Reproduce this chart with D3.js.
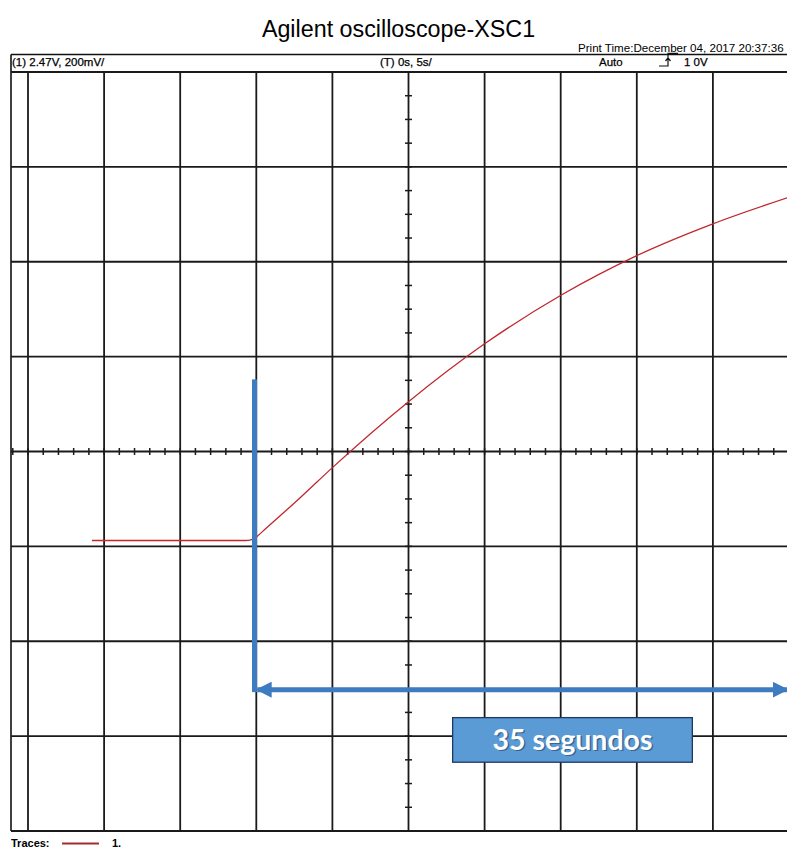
<!DOCTYPE html>
<html lang="en">
<head>
<meta charset="utf-8">
<title>Agilent oscilloscope-XSC1</title>
<script src="https://d3js.org/d3.v7.min.js"></script>
<style>
  body { margin: 0; background: #fff; }
  svg { display: block; font-family: "Liberation Sans", Arial, sans-serif; }
</style>
</head>
<body>
<div id="chart"></div>
<script>
// trace: time in s, voltage in V (relative to the screen centre)
var traceTime = [4.2, 8, 12, 14.3, 14.6, 14.85, 15.05, 15.5, 17.9, 20.0, 25.0, 30.0, 35.1, 40.0, 45.0, 49.9];
var traceVolt = [-0.1876, -0.1876, -0.1876, -0.1876, -0.1866, -0.184, -0.179, -0.166, -0.097, -0.034, 0.105, 0.227, 0.331, 0.413, 0.48, 0.535];

var headerLabels = ["(1) 2.47V, 200mV/", "(T) 0s, 5s/", "Auto", "1 0V"];
var printTime = "Print Time:December 04, 2017 20:37:36";
var title = "Agilent oscilloscope-XSC1";

// annotation: start and end of the marked span (s)
var spanStart = 15.0, spanEnd = 50.0;
var spanLabel = "35 segundos";

var W = 787, H = 848;
var svg = d3.select("#chart").append("svg").attr("width", W).attr("height", H);

var x = d3.scaleLinear().domain([0, 50]).range([28, 789]);
var y = d3.scaleLinear().domain([-0.8, 0.8]).range([831, 72]);

var left = 11, right = 800;

// title and print time
svg.append("text").attr("x", 398.5).attr("y", 37).attr("text-anchor", "middle")
  .style("font-size", "23.3px").text(title);
svg.append("text").attr("x", 578).attr("y", 52).style("font-size", "11.6px").text(printTime);

// header box
svg.append("line").attr("x1", left).attr("x2", right).attr("y1", 54.5).attr("y2", 54.5)
  .attr("stroke", "#111").attr("stroke-width", 1.4);
svg.append("line").attr("x1", left).attr("y1", 54.5).attr("x2", left).attr("y2", y(-0.8))
  .attr("stroke", "#111").attr("stroke-width", 1.6);
var hx = [12, 380, 599, 684];
svg.selectAll(".hdr").data(headerLabels).enter().append("text")
  .attr("x", function (d, i) { return hx[i]; }).attr("y", 66)
  .style("font-size", "11.5px").attr("stroke", "#000").attr("stroke-width", 0.25)
  .text(function (d) { return d; });
// trigger edge symbol
svg.append("path").attr("d", "M659,66 H668 V53.3 H678 M665.5,61 L668,58 L670.5,61")
  .attr("fill", "none").attr("stroke", "#111").attr("stroke-width", 1.2);

// grid
var g = svg.append("g");
var vx = d3.range(0, 51, 5);
var hy = d3.range(-0.8, 0.81, 0.2);
g.selectAll(".vg").data(vx).enter().append("line")
  .attr("x1", function (d) { return x(d); }).attr("x2", function (d) { return x(d); })
  .attr("y1", y(0.8)).attr("y2", y(-0.8))
  .attr("stroke", "#1a1a1a").attr("stroke-width", 1.8);
g.selectAll(".hg").data(hy).enter().append("line")
  .attr("x1", left).attr("x2", right)
  .attr("y1", function (d) { return y(d); }).attr("y2", function (d) { return y(d); })
  .attr("stroke", "#1a1a1a").attr("stroke-width", 1.8);

// minor ticks on the centre axes
var tx = d3.range(-1, 51, 1);
g.selectAll(".tx").data(tx).enter().append("line")
  .attr("x1", function (d) { return x(d); }).attr("x2", function (d) { return x(d); })
  .attr("y1", y(0) - 3.5).attr("y2", y(0) + 3.5)
  .attr("stroke", "#1a1a1a").attr("stroke-width", 1.5);
var ty = d3.range(-0.8, 0.801, 0.05);
g.selectAll(".ty").data(ty).enter().append("line")
  .attr("x1", x(25) - 3.5).attr("x2", x(25) + 3.5)
  .attr("y1", function (d) { return y(d); }).attr("y2", function (d) { return y(d); })
  .attr("stroke", "#1a1a1a").attr("stroke-width", 1.5);

// trace
var pts = traceTime.map(function (t, i) { return [t, traceVolt[i]]; });
svg.append("path").datum(pts)
  .attr("d", d3.line().x(function (d) { return x(d[0]); }).y(function (d) { return y(d[1]); })
    .curve(d3.curveMonotoneX))
  .attr("fill", "none").attr("stroke", "#c0282d").attr("stroke-width", 1.3);

// footer legend
svg.append("text").attr("x", 11).attr("y", 846.5).style("font-size", "11px").style("font-weight", "bold").text("Traces:");
svg.append("line").attr("x1", 62).attr("x2", 99).attr("y1", 843.5).attr("y2", 843.5)
  .attr("stroke", "#a52a2a").attr("stroke-width", 1.8);
svg.append("text").attr("x", 112).attr("y", 846.5).style("font-size", "11px").style("font-weight", "bold").text("1.");

// annotation
var blue = "#3d7cc0";
var ay = y(-0.502);
svg.append("rect").attr("x", x(spanStart) - 4.3).attr("y", y(0.152)).attr("width", 5)
  .attr("height", ay - y(0.152) + 2.5).attr("fill", blue);
var defs = svg.append("defs");
defs.append("marker").attr("id", "ah").attr("viewBox", "0 0 10 10").attr("refX", 9).attr("refY", 5)
  .attr("markerWidth", 3.2).attr("markerHeight", 3.2).attr("markerUnits", "strokeWidth")
  .attr("orient", "auto-start-reverse")
  .append("path").attr("d", "M0,0 L10,5 L0,10 Z").attr("fill", blue);
svg.append("line").attr("x1", x(spanStart) + 1).attr("x2", x(spanEnd) - 2)
  .attr("y1", ay).attr("y2", ay)
  .attr("stroke", blue).attr("stroke-width", 5)
  .attr("marker-start", "url(#ah)").attr("marker-end", "url(#ah)");

var bx0 = x(27.9), bx1 = x(43.65), by0 = y(-0.561), by1 = y(-0.655);
svg.append("rect").attr("x", bx0).attr("y", by0).attr("width", bx1 - bx0).attr("height", by1 - by0)
  .attr("fill", "#5b9bd5").attr("stroke", "#1f3864").attr("stroke-width", 1.3);
svg.append("text").attr("x", (bx0 + bx1) / 2 + 1.5).attr("y", by0 + 33.5).attr("text-anchor", "middle")
  .style("font-family", "Lato, 'Open Sans', sans-serif").style("font-weight", "bold")
  .style("font-size", "28.5px").attr("fill", "#000").attr("opacity", 0.35).text(spanLabel);
svg.append("text").attr("x", (bx0 + bx1) / 2).attr("y", by0 + 32).attr("text-anchor", "middle")
  .style("font-family", "Lato, 'Open Sans', sans-serif").style("font-weight", "bold")
  .style("font-size", "28.5px").attr("fill", "#fff").text(spanLabel);
</script>
</body>
</html>
